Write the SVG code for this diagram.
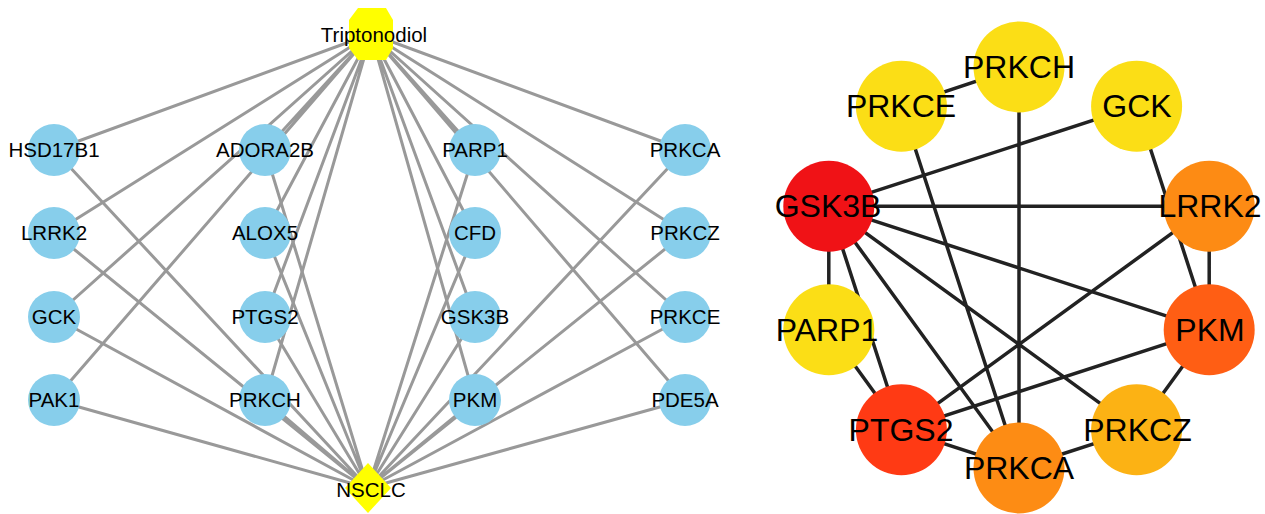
<svg xmlns="http://www.w3.org/2000/svg" width="1265" height="514" viewBox="0 0 1265 514">
<style>
.le{stroke:#999;stroke-width:3;fill:none}
.re{stroke:#222;stroke-width:3.5;fill:none}
.bn{fill:#87CEEB}
.lt{font-family:"Liberation Sans",Arial,sans-serif;font-size:20.5px;fill:#000;text-anchor:middle}
.rt{font-family:"Liberation Sans",Arial,sans-serif;font-size:32px;fill:#000;text-anchor:middle}
.yl{fill:#FBDE16}
</style>
<rect width="1265" height="514" fill="#fff"/>
<g id="left-edges">
<path class="le" d="M54 150L371 34M54 233L371 34M54 317L371 34M54 400L371 34M265 150L371 34M265 233L371 34M265 317L371 34M265 400L371 34M475 150L371 34M475 233L371 34M475 317L371 34M475 400L371 34M685 150L371 34M685 233L371 34M685 317L371 34M685 400L371 34"/>
<path class="le" d="M54 150L368 488M54 233L368 488M54 317L368 488M54 400L368 488M265 150L368 488M265 233L368 488M265 317L368 488M265 400L368 488M475 150L368 488M475 233L368 488M475 317L368 488M475 400L368 488M685 150L368 488M685 233L368 488M685 317L368 488M685 400L368 488"/>
</g>
<g id="n-triptonodiol"><polygon points="358,8 386,8 393,20 393,48 386,60 358,60 349,48 349,20" fill="#FFFF00"/><text class="lt" x="374" y="42">Triptonodiol</text></g>
<g id="n-nsclc"><polygon points="368,463 391,488 368,513 345,488" fill="#FFFF00"/><text class="lt" x="371" y="497">NSCLC</text></g>
<g id="l-HSD17B1"><circle class="bn" cx="54" cy="150" r="26"/><text class="lt" x="54" y="157">HSD17B1</text></g>
<g id="l-LRRK2"><circle class="bn" cx="54" cy="233" r="26"/><text class="lt" x="54" y="240">LRRK2</text></g>
<g id="l-GCK"><circle class="bn" cx="54" cy="317" r="26"/><text class="lt" x="54" y="324">GCK</text></g>
<g id="l-PAK1"><circle class="bn" cx="54" cy="400" r="26"/><text class="lt" x="54" y="407">PAK1</text></g>
<g id="l-ADORA2B"><circle class="bn" cx="265" cy="150" r="26"/><text class="lt" x="265" y="157">ADORA2B</text></g>
<g id="l-ALOX5"><circle class="bn" cx="265" cy="233" r="26"/><text class="lt" x="265" y="240">ALOX5</text></g>
<g id="l-PTGS2"><circle class="bn" cx="265" cy="317" r="26"/><text class="lt" x="265" y="324">PTGS2</text></g>
<g id="l-PRKCH"><circle class="bn" cx="265" cy="400" r="26"/><text class="lt" x="265" y="407">PRKCH</text></g>
<g id="l-PARP1"><circle class="bn" cx="475" cy="150" r="26"/><text class="lt" x="475" y="157">PARP1</text></g>
<g id="l-CFD"><circle class="bn" cx="475" cy="233" r="26"/><text class="lt" x="475" y="240">CFD</text></g>
<g id="l-GSK3B"><circle class="bn" cx="475" cy="317" r="26"/><text class="lt" x="475" y="324">GSK3B</text></g>
<g id="l-PKM"><circle class="bn" cx="475" cy="400" r="26"/><text class="lt" x="475" y="407">PKM</text></g>
<g id="l-PRKCA"><circle class="bn" cx="685" cy="150" r="26"/><text class="lt" x="685" y="157">PRKCA</text></g>
<g id="l-PRKCZ"><circle class="bn" cx="685" cy="233" r="26"/><text class="lt" x="685" y="240">PRKCZ</text></g>
<g id="l-PRKCE"><circle class="bn" cx="685" cy="317" r="26"/><text class="lt" x="685" y="324">PRKCE</text></g>
<g id="l-PDE5A"><circle class="bn" cx="685" cy="400" r="26"/><text class="lt" x="685" y="407">PDE5A</text></g>
<g id="right-edges">
<path class="re" d="M901.4 106.2L1019 67M1019 67L1019 468M901.4 106.2L1019 468M1136.6 106.2L828.8 206.2M1136.6 106.2L1209.2 329.8M828.8 206.2L1209.2 206.2M828.8 206.2L1209.2 329.8M828.8 206.2L828.8 329.8M828.8 206.2L901.4 429.8M828.8 206.2L1019 468M828.8 206.2L1136.6 429.8M1209.2 206.2L901.4 429.8M1209.2 206.2L1209.2 329.8M1209.2 329.8L901.4 429.8M1209.2 329.8L1136.6 429.8M828.8 329.8L901.4 429.8M901.4 429.8L1019 468M1136.6 429.8L1019 468"/>
</g>
<g id="r-PRKCH"><circle class="yl" cx="1019" cy="67" r="45.5"/><text class="rt" x="1019" y="78">PRKCH</text></g>
<g id="r-GCK"><circle class="yl" cx="1136.6" cy="106.2" r="45.5"/><text class="rt" x="1137" y="117">GCK</text></g>
<g id="r-LRRK2"><circle fill="#FD8B14" cx="1209.2" cy="206.2" r="45.5"/><text class="rt" x="1210" y="217">LRRK2</text></g>
<g id="r-PKM"><circle fill="#FF5E14" cx="1209.2" cy="329.8" r="45.5"/><text class="rt" x="1210" y="341">PKM</text></g>
<g id="r-PRKCZ"><circle fill="#FCB214" cx="1136.6" cy="429.8" r="45.5"/><text class="rt" x="1137.5" y="441">PRKCZ</text></g>
<g id="r-PTGS2"><circle fill="#FF3A14" cx="901.4" cy="429.8" r="45.5"/><text class="rt" x="901" y="441">PTGS2</text></g>
<g id="r-PRKCA"><circle fill="#FD8C14" cx="1019" cy="468" r="45.5"/><text class="rt" x="1019" y="479">PRKCA</text></g>
<g id="r-PARP1"><circle class="yl" cx="828.8" cy="329.8" r="45.5"/><text class="rt" x="827" y="341">PARP1</text></g>
<g id="r-GSK3B"><circle fill="#F01216" cx="828.8" cy="206.2" r="45.5"/><text class="rt" x="828" y="217">GSK3B</text></g>
<g id="r-PRKCE"><circle class="yl" cx="901.4" cy="106.2" r="45.5"/><text class="rt" x="901" y="117">PRKCE</text></g>
</svg>
